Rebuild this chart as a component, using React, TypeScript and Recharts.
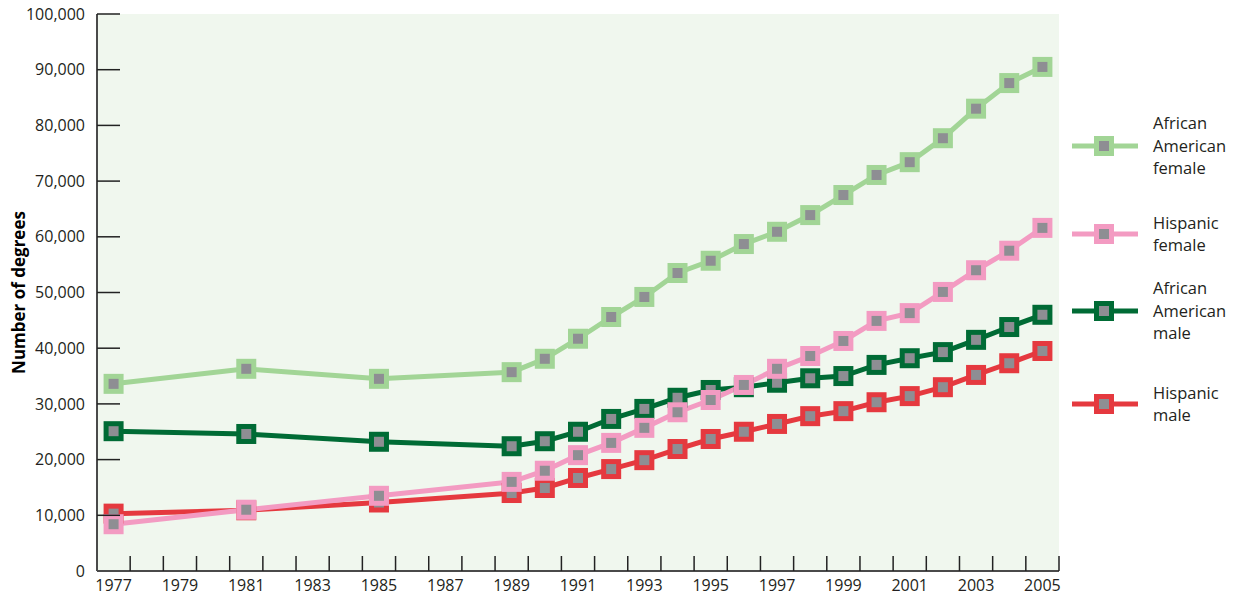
import { LineChart, Line, XAxis, YAxis, Legend, ReferenceArea } from 'recharts';

const years = [1977, 1981, 1985, 1989, 1990, 1991, 1992, 1993, 1994, 1995, 1996, 1997, 1998, 1999, 2000, 2001, 2002, 2003, 2004, 2005];

const aaFemale = [33600, 36300, 34500, 35700, 38100, 41700, 45600, 49200, 53500, 55700, 58700, 60900, 63900, 67500, 71100, 73400, 77700, 83000, 87600, 90500];
const hispFemale = [8400, 11000, 13500, 16000, 18000, 20800, 23000, 25700, 28500, 30700, 33400, 36300, 38600, 41300, 44900, 46300, 50100, 54000, 57500, 61600];
const aaMale = [25100, 24600, 23200, 22400, 23300, 25000, 27300, 29100, 31100, 32500, 33000, 33800, 34600, 35000, 37000, 38200, 39300, 41500, 43800, 46000];
const hispMale = [10300, 10900, 12300, 14000, 14900, 16700, 18300, 19900, 21900, 23700, 25000, 26400, 27800, 28700, 30300, 31400, 33000, 35200, 37300, 39500];

const yTicks = [0, 10000, 20000, 30000, 40000, 50000, 60000, 70000, 80000, 90000, 100000];
const yearLabels = [1977, 1979, 1981, 1983, 1985, 1987, 1989, 1991, 1993, 1995, 1997, 1999, 2001, 2003, 2005];
const yearTickMarks = [1977.5, 1978.5, 1979.5, 1980.5, 1981.5, 1982.5, 1983.5, 1984.5, 1985.5, 1986.5, 1987.5, 1988.5, 1989.5, 1990.5, 1991.5, 1992.5, 1993.5, 1994.5, 1995.5, 1996.5, 1997.5, 1998.5, 1999.5, 2000.5, 2001.5, 2002.5, 2003.5, 2004.5, 2005.5];

const series = [
  { key: 'aaFemale', name: 'African American female', lines: ['African', 'American', 'female'], color: '#a2d596' },
  { key: 'aaMale', name: 'African American male', lines: ['African', 'American', 'male'], color: '#006b35' },
  { key: 'hispMale', name: 'Hispanic male', lines: ['Hispanic', 'male'], color: '#e5393f' },
  { key: 'hispFemale', name: 'Hispanic female', lines: ['Hispanic', 'female'], color: '#f39bc2' },
];
const legendOrder = ['aaFemale', 'hispFemale', 'aaMale', 'hispMale'];

const data = years.map((year, i) => ({
  year,
  aaFemale: aaFemale[i],
  hispFemale: hispFemale[i],
  aaMale: aaMale[i],
  hispMale: hispMale[i],
}));

const FONT = '"Open Sans", "DejaVu Sans", sans-serif';

function SquareDot(props: any) {
  const { cx, cy, stroke } = props;
  if (cx == null || cy == null) return null;
  return <rect x={cx - 7.5} y={cy - 7.5} width={15} height={15} fill="#8e8e93" stroke={stroke} strokeWidth={5} />;
}

function XTick(props: any) {
  const { x, y, payload } = props;
  const v = payload.value;
  if (v % 1 !== 0) {
    return <line x1={x} x2={x} y1={y} y2={y - 15} stroke="#222" strokeWidth={1.5} />;
  }
  return (
    <text x={x} y={y + 20} textAnchor="middle" fontSize={16} fontFamily={FONT} fill="#231f20">
      {v}
    </text>
  );
}

function YTick(props: any) {
  const { x, y, payload } = props;
  return (
    <g>
      {payload.value > 0 && <line x1={x} x2={x + 23} y1={y} y2={y} stroke="#222" strokeWidth={1.5} />}
      <text x={x - 12} y={y} dy="0.35em" textAnchor="end" fontSize={16} fontFamily={FONT} fill="#231f20">
        {payload.value.toLocaleString('en-US')}
      </text>
    </g>
  );
}

function LegendBox() {
  const spots = [146, 234, 311, 404];
  return (
    <svg width={180} height={440} style={{ position: 'absolute', left: 1063, top: 0 }}>
      {legendOrder.map((k, i) => {
        const s = series.find((d) => d.key === k)!;
        const cy = spots[i];
        const n = s.lines.length;
        return (
          <g key={k}>
            <line x1={9} x2={75} y1={cy} y2={cy} stroke={s.color} strokeWidth={5} />
            <rect x={33.5} y={cy - 7.5} width={15} height={15} fill="#8e8e93" stroke={s.color} strokeWidth={5} />
            {s.lines.map((t, j) => (
              <text key={t} x={90} y={cy + (j - (n - 1) / 2) * 22.5} dy="0.35em" fontSize={16.5} fontFamily={FONT} fill="#231f20">
                {t}
              </text>
            ))}
          </g>
        );
      })}
    </svg>
  );
}

export default function App() {
  return (
    <div style={{ position: 'absolute', left: 0, top: 0, width: 1243, height: 596, background: '#fff' }}>
      <LineChart width={1243} height={596} data={data} margin={{ top: 14, right: 184, bottom: 0, left: 0 }}>
        <ReferenceArea x1={1976.5} x2={2005.5} y1={0} y2={100000} fill="#f0f7ee" fillOpacity={1} stroke="none" ifOverflow="visible" />
        <XAxis
          dataKey="year"
          type="number"
          domain={[1976.5, 2005.5]}
          ticks={[...yearLabels, ...yearTickMarks].sort((a, b) => a - b)}
          interval={0}
          tick={<XTick />}
          tickSize={0}
          tickMargin={0}
          tickLine={false}
          height={25}
          axisLine={{ stroke: '#4a4a4a', strokeWidth: 2 }}
          allowDataOverflow
        />
        <YAxis
          type="number"
          domain={[0, 100000]}
          ticks={yTicks}
          interval={0}
          tick={<YTick />}
          tickSize={0}
          tickMargin={0}
          tickLine={false}
          width={97}
          axisLine={{ stroke: '#4a4a4a', strokeWidth: 2 }}
          label={{ value: 'Number of degrees', angle: -90, position: 'insideLeft', dx: 14, style: { fontFamily: FONT, fontSize: 17, fontWeight: 700, fill: '#000', textAnchor: 'middle' } }}
        />
        <Legend content={() => null} />
        {series.map((s) => (
          <Line
            key={s.key}
            dataKey={s.key}
            name={s.name}
            stroke={s.color}
            strokeWidth={5}
            dot={<SquareDot />}
            activeDot={false}
            isAnimationActive={false}
          />
        ))}
      </LineChart>
      <LegendBox />
    </div>
  );
}
